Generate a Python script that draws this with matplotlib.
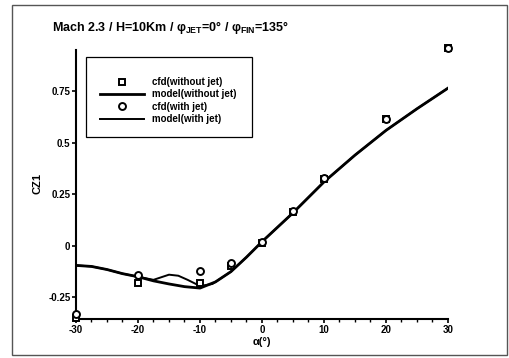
import numpy as np
import matplotlib
matplotlib.use('Agg')
import matplotlib.pyplot as plt
from matplotlib.patches import Rectangle
from matplotlib.ticker import MultipleLocator

plt.rcParams['font.family'] = ['Liberation Sans', 'DejaVu Sans']
plt.rcParams['font.weight'] = 'bold'
plt.rcParams['mathtext.fontset'] = 'custom'
plt.rcParams['mathtext.rm'] = 'Liberation Sans:bold'
plt.rcParams['mathtext.bf'] = 'Liberation Sans:bold'
plt.rcParams['mathtext.it'] = 'Liberation Sans:bold'

# cfd points
alpha_cfd = [-30, -20, -10, -5, 0, 5, 10, 20, 30]
cz_cfd_nojet = [-0.35, -0.18, -0.178, -0.10, 0.015, 0.165, 0.325, 0.615, 0.96]
cz_cfd_jet = [-0.33, -0.14, -0.12, -0.085, 0.02, 0.17, 0.33, 0.615, 0.96]

# model curves
alpha_model = [-30, -27.5, -25, -22.5, -20, -17.5, -15, -12.5, -10, -7.5, -5,
               -2.5, 0, 2.5, 5, 7.5, 10, 15, 20, 25, 30]
cz_model_nojet = [-0.095, -0.10, -0.115, -0.135, -0.15, -0.17, -0.185, -0.198,
                  -0.205, -0.175, -0.125, -0.055, 0.02, 0.09, 0.16, 0.235,
                  0.31, 0.44, 0.56, 0.665, 0.765]
alpha_model_jet = [-30, -27.5, -25, -22.5, -20, -17.5, -16, -15, -13.5, -12,
                   -10, -8, -7.5, -5, -2.5, 0, 2.5, 5, 7.5, 10, 15, 20, 25, 30]
cz_model_jet = [-0.095, -0.10, -0.115, -0.135, -0.15, -0.165, -0.15, -0.14,
                -0.145, -0.165, -0.195, -0.185, -0.175, -0.125, -0.055, 0.02,
                0.09, 0.16, 0.235, 0.31, 0.44, 0.56, 0.665, 0.765]

yticks = [-0.25, 0, 0.25, 0.5, 0.75]
ytick_labels = ['-0.25', '0', '0.25', '0.5', '0.75']
xticks = [-30, -20, -10, 0, 10, 20, 30]

W, H = 510, 358
fig = plt.figure(figsize=(5.1, 3.58), dpi=100)
ax = fig.add_axes([76 / W, 39 / H, 372 / W, 269 / H])

ax.plot(alpha_cfd, cz_cfd_nojet, linestyle='none', marker='s', markersize=5,
        markerfacecolor='white', markeredgecolor='black', markeredgewidth=1.4,
        label='cfd(without jet)', clip_on=False, zorder=3)
ax.plot(alpha_model, cz_model_nojet, color='black', linewidth=2.0,
        label='model(without jet)')
ax.plot(alpha_cfd, cz_cfd_jet, linestyle='none', marker='o', markersize=5,
        markerfacecolor='white', markeredgecolor='black', markeredgewidth=1.4,
        label='cfd(with jet)', clip_on=False, zorder=3)
ax.plot(alpha_model_jet, cz_model_jet, color='black', linewidth=1.4,
        label='model(with jet)')

ax.set_xlim(-30, 30)
ax.set_ylim(-0.355, 0.95)
ax.set_xticks(xticks)
ax.set_xticklabels([str(v) for v in xticks])
ax.xaxis.set_minor_locator(MultipleLocator(2.5))
ax.set_yticks(yticks)
ax.set_yticklabels(ytick_labels)

for s in ['top', 'right']:
    ax.spines[s].set_visible(False)
for s in ['left', 'bottom']:
    ax.spines[s].set_linewidth(1.5)

ax.tick_params(axis='both', which='major', direction='out', length=3,
               width=1.2, labelsize=7, pad=1)
ax.tick_params(axis='x', which='minor', direction='out', length=2, width=1)

ax.set_xlabel('α(°)', fontsize=8, fontweight='bold', labelpad=2)
ax.set_ylabel('CZ1', fontsize=8, fontweight='bold')
ax.yaxis.set_label_coords((43 - 76) / 372, (319 - 184) / 269)

# legend: frame drawn separately
leg = ax.legend(loc='upper left',
                bbox_to_anchor=(100 / W, 1 - 77 / H),
                bbox_transform=fig.transFigure,
                fontsize=7, frameon=False, handlelength=4.5,
                handletextpad=0.9, borderpad=0, labelspacing=0.25,
                borderaxespad=0)
fig.patches.append(Rectangle((86 / W, 1 - 137 / H), 166 / W, 80 / H,
                             transform=fig.transFigure, fill=False,
                             edgecolor='black', linewidth=0.9))

fig.text(52 / W, 1 - 27 / H,
         r'Mach 2.3 / H=10Km / φ$_{JET}$=0° / φ$_{FIN}$=135°',
         fontsize=9, fontweight='bold', va='center', ha='left')

fig.patches.append(Rectangle((12 / W, 3 / H), 495 / W, 350 / H,
                             transform=fig.transFigure, fill=False,
                             edgecolor='#555555', linewidth=1.0))

fig.savefig('out.png', dpi=100)
